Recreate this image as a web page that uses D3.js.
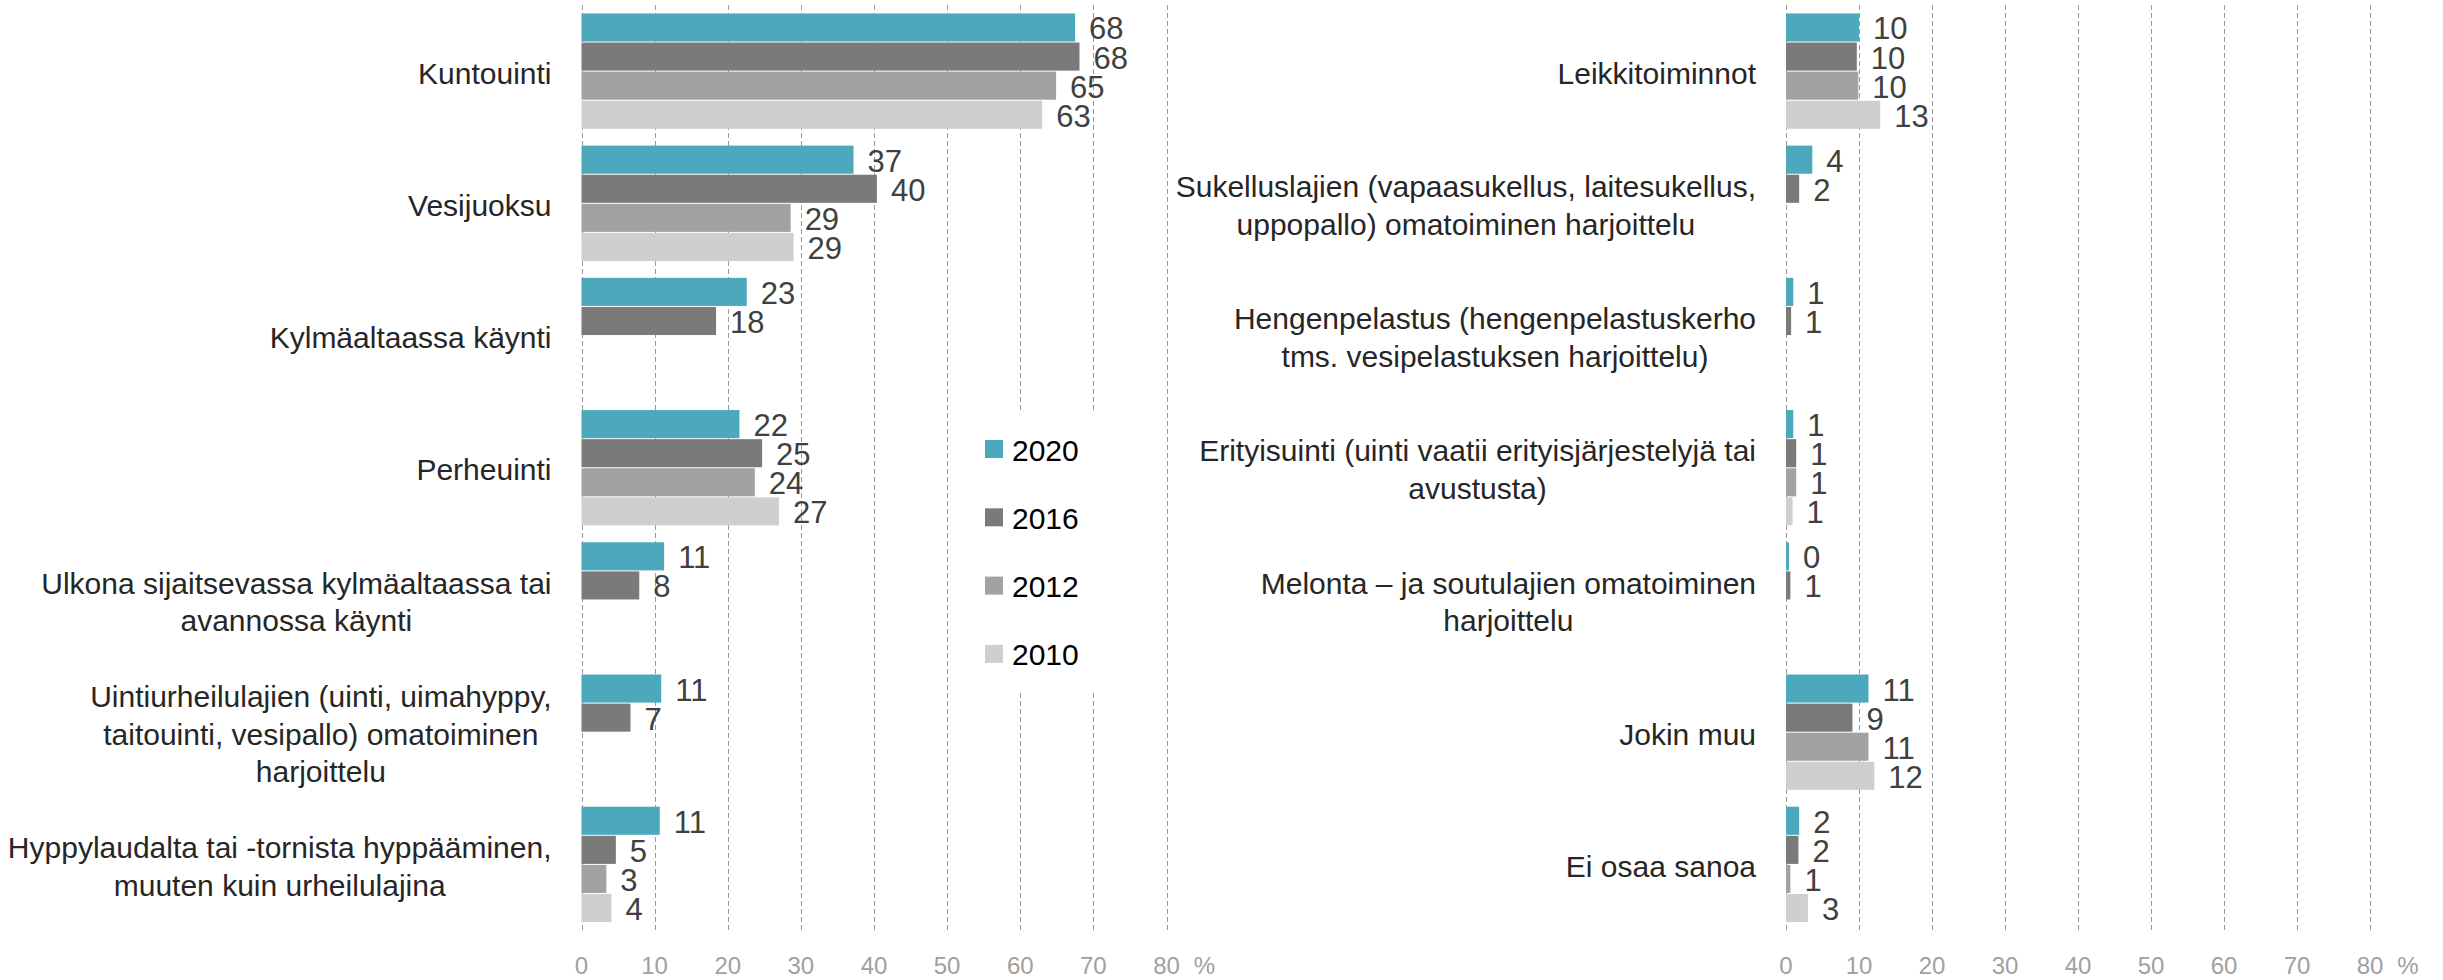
<!DOCTYPE html>
<meta charset="utf-8">
<title>Uimahallin käyttö</title>
<style>

body {
  margin: 0;
  background: #fff;
}

svg {
  font-family: "Liberation Sans", Arial, sans-serif;
}

.grid line {
  stroke: #9a9a9a;
  stroke-width: 1;
  stroke-dasharray: 5,3;
  shape-rendering: crispEdges;
}

.tick-label {
  font-size: 24px;
  fill: #a0a0a0;
}

.cat {
  font-size: 30px;
  fill: #262626;
}

.val {
  font-size: 31px;
  fill: #404040;
}

.legend text {
  font-size: 30px;
  fill: #000;
}

</style>
<body>
<script src="https://d3js.org/d3.v7.min.js"></script>
<script>

var years = ["2020", "2016", "2012", "2010"];
var colors = ["#4ba8bd", "#7a7a7a", "#a2a2a2", "#cfcfcf"];
var ticks = [0, 10, 20, 30, 40, 50, 60, 70, 80];

var leftCategories = [
  "Kuntouinti",
  "Vesijuoksu",
  "Kylmäaltaassa käynti",
  "Perheuinti",
  "Ulkona sijaitsevassa kylmäaltaassa tai\navannossa käynti",
  "Uintiurheilulajien (uinti, uimahyppy,\ntaitouinti, vesipallo) omatoiminen\nharjoittelu",
  "Hyppylaudalta tai -tornista hyppääminen,\nmuuten kuin urheilulajina"
];
var left2020 = [67.5, 37.2, 22.6, 21.6, 11.3, 10.9, 10.7];
var left2016 = [68.1, 40.4, 18.4, 24.7, 7.9, 6.7, 4.7];
var left2012 = [64.9, 28.6, null, 23.7, null, null, 3.4];
var left2010 = [63.0, 29.0, null, 27.0, null, null, 4.1];

var rightCategories = [
  "Leikkitoiminnot",
  "Sukelluslajien (vapaasukellus, laitesukellus,\nuppopallo) omatoiminen harjoittelu",
  "Hengenpelastus (hengenpelastuskerho\ntms. vesipelastuksen harjoittelu)",
  "Erityisuinti (uinti vaatii erityisjärjestelyjä tai\navustusta)",
  "Melonta – ja soutulajien omatoiminen\nharjoittelu",
  "Jokin muu",
  "Ei osaa sanoa"
];
var right2020 = [10.0, 3.6, 1.0, 1.0, 0.4, 11.3, 1.8];
var right2016 = [9.7, 1.8, 0.7, 1.4, 0.6, 9.1, 1.7];
var right2012 = [9.9, null, null, 1.4, null, 11.3, 0.6];
var right2010 = [12.9, null, null, 0.9, null, 12.1, 3.0];

var width = 2443,
    height = 980,
    top0 = 5.5,
    bottom0 = 931,
    labelGap = 30,
    lineHeight = 37.5;

var svg = d3.select("body").append("svg")
    .attr("width", width)
    .attr("height", height);

var color = d3.scaleOrdinal().domain(years).range(colors);
var fmt = d3.format(".0f");

function panel(cats, series, x0, x1) {
  var x = d3.scaleLinear()
      .domain([0, 80])
      .range([x0, x1]);

  var y = d3.scaleBand()
      .domain(cats)
      .range([top0, bottom0])
      .paddingInner(0.12)
      .paddingOuter(0.06);

  var y1 = d3.scaleBand()
      .domain(years)
      .range([0, y.bandwidth()]);

  var g = svg.append("g");

  // dashed gridlines
  g.append("g")
      .attr("class", "grid")
    .selectAll("line")
    .data(ticks)
    .join("line")
      .attr("x1", function(d) { return Math.round(x(d)) + 0.5; })
      .attr("x2", function(d) { return Math.round(x(d)) + 0.5; })
      .attr("y1", 5)
      .attr("y2", bottom0);

  // tick labels
  g.append("g")
    .selectAll("text")
    .data(ticks)
    .join("text")
      .attr("class", "tick-label")
      .attr("x", function(d) { return x(d); })
      .attr("y", 965)
      .attr("text-anchor", "middle")
      .attr("dominant-baseline", "central")
      .text(function(d) { return d; });

  g.append("text")
      .attr("class", "tick-label")
      .attr("x", x(80) + 38)
      .attr("y", 965)
      .attr("text-anchor", "middle")
      .attr("dominant-baseline", "central")
      .text("%");

  var rows = cats.map(function(c, i) {
    return {
      cat: c,
      vals: years.map(function(yr, j) { return {year: yr, value: series[j][i]}; })
        .filter(function(d) { return d.value != null; })
    };
  });

  var grp = g.selectAll(".grp")
    .data(rows)
    .join("g")
      .attr("class", "grp")
      .attr("transform", function(d) { return "translate(0," + y(d.cat) + ")"; });

  grp.selectAll("rect")
    .data(function(d) { return d.vals; })
    .join("rect")
      .attr("x", x(0))
      .attr("y", function(d) { return y1(d.year); })
      .attr("width", function(d) { return x(d.value) - x(0); })
      .attr("height", y1.bandwidth() - 1)
      .attr("fill", function(d) { return color(d.year); });

  grp.selectAll(".val")
    .data(function(d) { return d.vals; })
    .join("text")
      .attr("class", "val")
      .attr("x", function(d) { return x(d.value) + 14; })
      .attr("y", function(d) { return y1(d.year) + y1.bandwidth() / 2 + 1; })
      .attr("dominant-baseline", "central")
      .text(function(d) { return fmt(d.value); });

  // category labels: centred lines, block right aligned
  grp.each(function(d) {
    var lines = d.cat.split("\n");
    var t = d3.select(this).append("text")
        .attr("class", "cat")
        .attr("text-anchor", "middle")
        .attr("dominant-baseline", "central");
    var spans = t.selectAll("tspan")
      .data(lines)
      .join("tspan")
        .attr("y", function(l, i) {
          return y.bandwidth() / 2 + (i - (lines.length - 1) / 2) * lineHeight + 1;
        })
        .text(function(l) { return l; });
    var maxW = 0;
    spans.each(function() { maxW = Math.max(maxW, this.getComputedTextLength()); });
    spans.attr("x", x(0) - labelGap - maxW / 2);
  });

  return x;
}

panel(leftCategories, [left2020, left2016, left2012, left2010], 581.5, 1166.5);
panel(rightCategories, [right2020, right2016, right2012, right2010], 1786, 2370);

// legend, with white backing that interrupts the gridlines behind it
var legend = svg.append("g")
    .attr("class", "legend");

legend.append("rect")
    .attr("x", 975)
    .attr("y", 412)
    .attr("width", 150)
    .attr("height", 278)
    .attr("fill", "#fff");

var item = legend.selectAll(".item")
  .data(years)
  .join("g")
    .attr("class", "item")
    .attr("transform", function(d, i) { return "translate(985," + (449 + i * 68.3) + ")"; });

item.append("rect")
    .attr("y", -9)
    .attr("width", 18)
    .attr("height", 18)
    .attr("fill", function(d) { return color(d); });

item.append("text")
    .attr("x", 27)
    .attr("y", 1)
    .attr("dominant-baseline", "central")
    .text(function(d) { return d; });

</script>
